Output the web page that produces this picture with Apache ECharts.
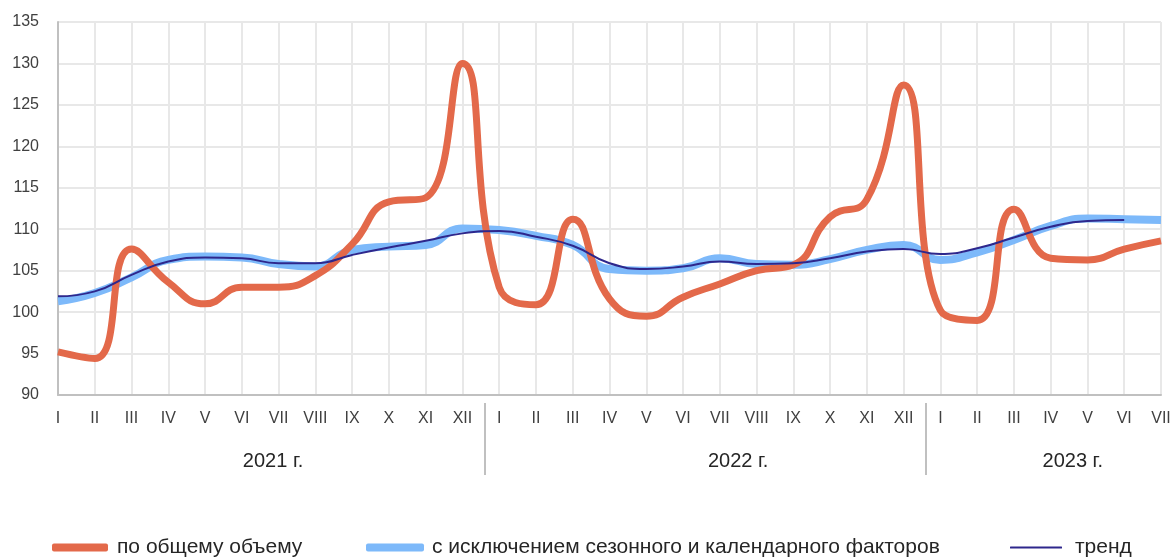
<!DOCTYPE html>
<html>
<head>
<meta charset="utf-8">
<script src="https://cdn.jsdelivr.net/npm/echarts@6/dist/echarts.min.js"></script>
<style>
  html, body { margin: 0; padding: 0; background: #fff; }
  #chart { width: 1176px; height: 558px; }
</style>
</head>
<body>
<div id="chart"></div>
<script>
var months = ['I', 'II', 'III', 'IV', 'V', 'VI', 'VII', 'VIII', 'IX', 'X', 'XI', 'XII',
              'I', 'II', 'III', 'IV', 'V', 'VI', 'VII', 'VIII', 'IX', 'X', 'XI', 'XII',
              'I', 'II', 'III', 'IV', 'V', 'VI', 'VII'];
var yearNames = ['2021 г.', '2022 г.', '2023 г.'];
var yearLengths = [12, 12, 7];

// по общему объему
var totalVolume = [95.2, 94.4, 107.6, 103.6, 101.0, 103.0, 103.0, 104.4, 108.2, 113.3, 113.8, 130.0,
                   103.0, 100.9, 111.2, 101.6, 99.5, 101.8, 103.4, 105.0, 105.7, 111.5, 113.6, 127.4,
                   100.2, 99.0, 112.4, 106.5, 106.3, 107.6, 108.6];
// с исключением сезонного и календарного факторов
var seasonalAdj = [101.3, 102.3, 104.2, 106.3, 106.7, 106.6, 105.8, 105.5, 107.5, 107.9, 108.1, 110.1,
                   109.9, 109.2, 108.1, 105.2, 105.0, 105.3, 106.5, 105.8, 105.7, 106.4, 107.5, 108.1,
                   106.3, 107.2, 108.7, 110.4, 111.3, 111.2, 111.1];
// тренд
var trend = [101.9, 102.5, 104.5, 106.1, 106.6, 106.5, 105.9, 105.9, 106.9, 107.8, 108.6, 109.5,
             109.8, 109.1, 108.0, 105.9, 105.2, 105.5, 106.1, 105.8, 105.9, 106.5, 107.3, 107.6,
             107.0, 107.7, 109.0, 110.3, 111.0, 111.1, null];

var seriesNames = ['по общему объему', 'с исключением сезонного и календарного факторов', 'тренд'];
var seriesColors = ['#E3694A', '#7DB9FA', '#2E278C'];

var font = "'Liberation Sans', Arial, sans-serif";
var chart = echarts.init(document.getElementById('chart'));

function legendAt(left, name, h, w, gap) {
    return {
        left: left,
        top: 537,
        padding: 0,
        icon: 'roundRect',
        itemWidth: w,
        itemHeight: h,
        itemGap: 0,
        selectedMode: false,
        data: [name],
        textStyle: { fontFamily: font, fontSize: 21, color: '#262626', padding: [0, 0, 0, gap] }
    };
}

chart.setOption({
    animation: false,
    grid: { left: 58, right: 15, top: 22, bottom: 163 },
    legend: [
        legendAt(52, seriesNames[0], 8, 56, 4),
        legendAt(366, seriesNames[1], 8, 58, 3),
        legendAt(1010, seriesNames[2], 2, 52, 8)
    ],
    xAxis: {
        type: 'category',
        data: months,
        boundaryGap: false,
        axisLine: { lineStyle: { color: '#c0c0c0', width: 2 } },
        axisTick: { show: false },
        axisLabel: { interval: 0, margin: 16, fontFamily: font, fontSize: 16, color: '#404040' },
        splitLine: { show: true, lineStyle: { color: '#e8e8e8', width: 2 } }
    },
    yAxis: {
        type: 'value',
        min: 90,
        max: 135,
        interval: 5,
        axisLine: { show: true, lineStyle: { color: '#c0c0c0', width: 2 } },
        axisTick: { show: false },
        axisLabel: { margin: 19, fontFamily: font, fontSize: 16, color: '#404040' },
        splitLine: { lineStyle: { color: '#e8e8e8', width: 2 } }
    },
    series: [{
        name: seriesNames[1],
        type: 'line',
        data: seasonalAdj,
        smooth: 0.5,
        showSymbol: false,
        z: 2,
        itemStyle: { color: seriesColors[1] },
        lineStyle: { color: seriesColors[1], width: 8 }
    }, {
        name: seriesNames[0],
        type: 'line',
        data: totalVolume,
        smooth: 0.5,
        showSymbol: false,
        z: 3,
        itemStyle: { color: seriesColors[0] },
        lineStyle: { color: seriesColors[0], width: 7 }
    }, {
        name: seriesNames[2],
        type: 'line',
        data: trend,
        smooth: 0.5,
        showSymbol: false,
        z: 4,
        itemStyle: { color: seriesColors[2] },
        lineStyle: { color: seriesColors[2], width: 2 }
    }]
});

// year captions and separators under the month labels
var px = function (i) { return chart.convertToPixel({ xAxisIndex: 0 }, i); };
var step = px(1) - px(0);
var yearCenters = [5.85, 18.5, 27.6];
var graphics = [];
var start = 0;
for (var k = 0; k < yearNames.length; k++) {
    graphics.push({
        type: 'text',
        x: px(0) + yearCenters[k] * step,
        y: 461,
        style: { text: yearNames[k], font: '20px ' + font, fill: '#262626', align: 'center', verticalAlign: 'middle' }
    });
    start += yearLengths[k];
    if (k < yearNames.length - 1) {
        var sx = Math.round(px(start - 1) + step / 2 + 4);
        graphics.push({
            type: 'line',
            shape: { x1: sx, y1: 403, x2: sx, y2: 475 },
            style: { stroke: '#c0c0c0', lineWidth: 2 }
        });
    }
}
chart.setOption({ graphic: graphics });

window.onresize = chart.resize;
</script>
</body>
</html>
